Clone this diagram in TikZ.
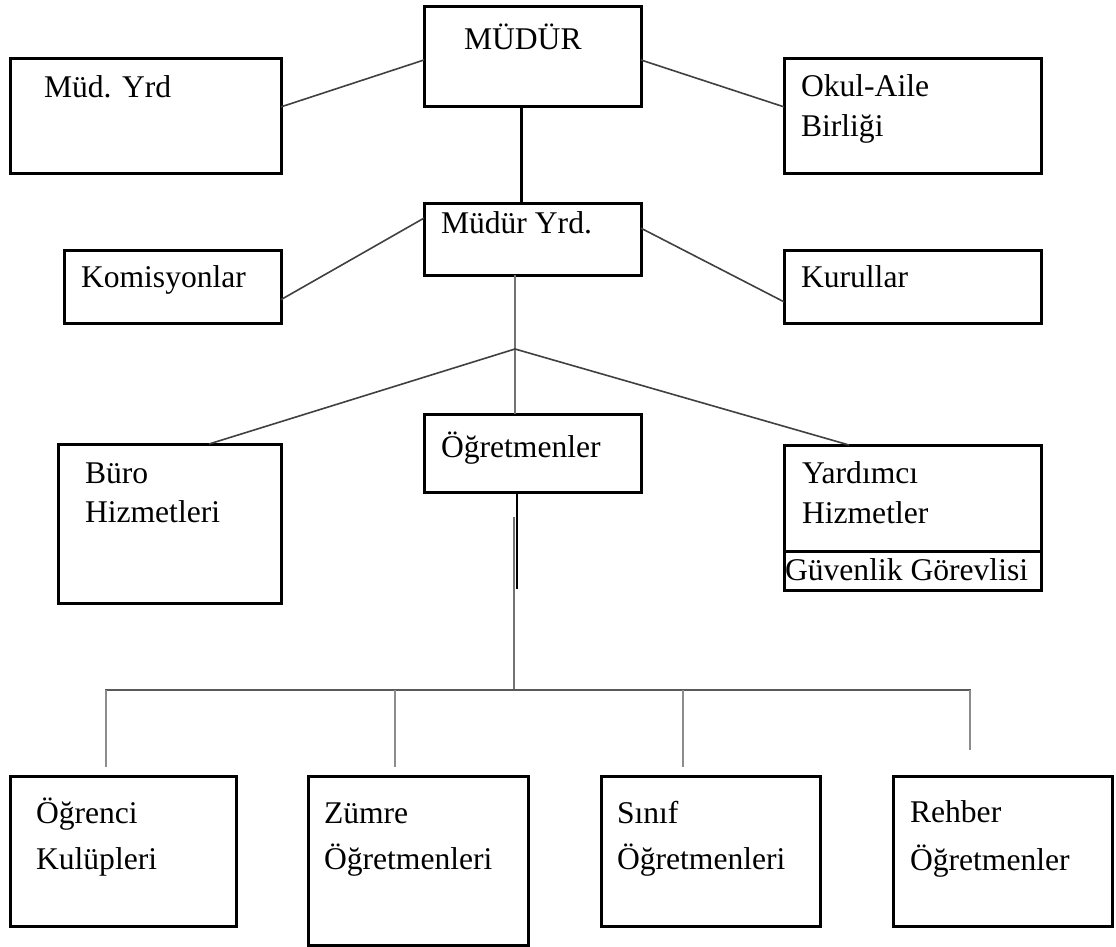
\documentclass[tikz,border=0pt]{standalone}
\usepackage{fontspec}
\setmainfont{Liberation Serif}
\usetikzlibrary{calc}
\tikzset{
  box/.style={draw=black, line width=3pt, anchor=north west, inner sep=0pt, outer sep=0pt},
  lbl/.style={anchor=base west, inner sep=0pt, outer sep=0pt, font=\fontsize{31.6}{38}\selectfont},
  dark/.style={draw=black!75, line width=1.6pt},
  midgray/.style={draw=black!55, line width=2pt},
  bus/.style={draw=black!65, line width=1.6pt},
  drop/.style={draw=black!45, line width=2.4pt},
  thick/.style={draw=black, line width=3pt},
  thinblack/.style={draw=black, line width=2pt}
}
\newcommand{\boxat}[5]{\node[box, minimum width=#4pt, minimum height=#5pt] (#1) at (#2,#3) {};}
\begin{document}
\begin{tikzpicture}[x=1pt,y=-1pt]
\useasboundingbox (0,0) rectangle (1116,947);
% boxes
\boxat{mudur}{424}{7}{217}{100}
\boxat{mudyrd}{10}{59}{271}{114}
\boxat{okul}{784}{59}{257}{114}
\boxat{mdryrd}{424}{203}{217}{72}
\boxat{komis}{64}{250}{217}{73}
\boxat{kurul}{784}{250}{257}{73}
\boxat{buro}{58}{444}{223}{159}
\boxat{ogret}{424}{414}{217}{78}
\boxat{yard}{784}{445}{257}{145}
\boxat{guv}{784}{551}{257}{39}
\boxat{ogrenci}{10}{776}{226}{150}
\boxat{zumre}{308}{776}{220}{169}
\boxat{sinif}{601}{776}{219}{150}
\boxat{rehber}{893}{776}{219}{150}
% texts
\node[lbl] (t-mudur) at (464,50) {MÜDÜR};
\node[lbl] (t-mudyrd) at (44,98) {Müd. Yrd};
\node[lbl] (t-okul1) at (801,97) {Okul-Aile};
\node[lbl] (t-okul2) at (801,137) {Birliği};
\node[lbl] (t-mdryrd) at (441,233) {Müdür Yrd.};
\node[lbl] (t-komis) at (81,287) {Komisyonlar};
\node[lbl] (t-kurul) at (801,287) {Kurullar};
\node[lbl] (t-buro1) at (85,483) {Büro};
\node[lbl] (t-buro2) at (85,522) {Hizmetleri};
\node[lbl] (t-ogret) at (441,457) {Öğretmenler};
\node[lbl] (t-yard1) at (802,483) {Yardımcı};
\node[lbl] (t-yard2) at (802,523) {Hizmetler};
\node[lbl] (t-guv) at (785,580) {Güvenlik Görevlisi};
\node[lbl] (t-ogrenci1) at (36,823) {Öğrenci};
\node[lbl] (t-ogrenci2) at (36,869) {Kulüpleri};
\node[lbl] (t-zumre1) at (324,823) {Zümre};
\node[lbl] (t-zumre2) at (324,869) {Öğretmenleri};
\node[lbl] (t-sinif1) at (617,823) {Sınıf};
\node[lbl] (t-sinif2) at (617,869) {Öğretmenleri};
\node[lbl] (t-rehber1) at (910,822) {Rehber};
\node[lbl] (t-rehber2) at (910,870) {Öğretmenler};
% connector points
\coordinate (j1) at (515,349);
\coordinate (g1) at (514,517);
\coordinate (b1) at (514,690);
\coordinate (busL) at (105,690);
\coordinate (busR) at (971,690);
\coordinate (d1) at (106,690);
\coordinate (d2) at (395,690);
\coordinate (d3) at (683,690);
\coordinate (d4) at (970,690);
% top connectors
\draw[dark] ($(mudyrd.north east)!0.42!(mudyrd.south east)$) -- ($(mudur.north west)!0.53!(mudur.south west)$);
\draw[dark] ($(mudur.north east)!0.53!(mudur.south east)$) -- ($(okul.north west)!0.42!(okul.south west)$);
\draw[thick] (mudur.south -| 521,0) -- (mdryrd.north -| 521,0);
\draw[dark] ($(komis.north east)!0.68!(komis.south east)$) -- ($(mdryrd.north west)!0.21!(mdryrd.south west)$);
\draw[dark] ($(mdryrd.north east)!0.35!(mdryrd.south east)$) -- ($(kurul.north west)!0.71!(kurul.south west)$);
% middle tree
\draw[midgray] (mdryrd.south -| j1) -- (j1) -- (ogret.north -| j1);
\draw[dark] (j1) -- (buro.north -| 209,0);
\draw[dark] (j1) -- (yard.north -| 849,0);
\draw[thinblack] (ogret.south -| 517,0) -- (517,589);
\draw[midgray] (g1) -- (b1);
% bottom bus
\draw[bus] (busL) -- (busR);
\draw[drop, shorten >=9pt] (d1) -- (d1 |- ogrenci.north);
\draw[drop, shorten >=9pt] (d2) -- (d2 |- zumre.north);
\draw[drop, shorten >=9pt] (d3) -- (d3 |- sinif.north);
\draw[drop, shorten >=26pt] (d4) -- (d4 |- rehber.north);
\end{tikzpicture}
\end{document}
